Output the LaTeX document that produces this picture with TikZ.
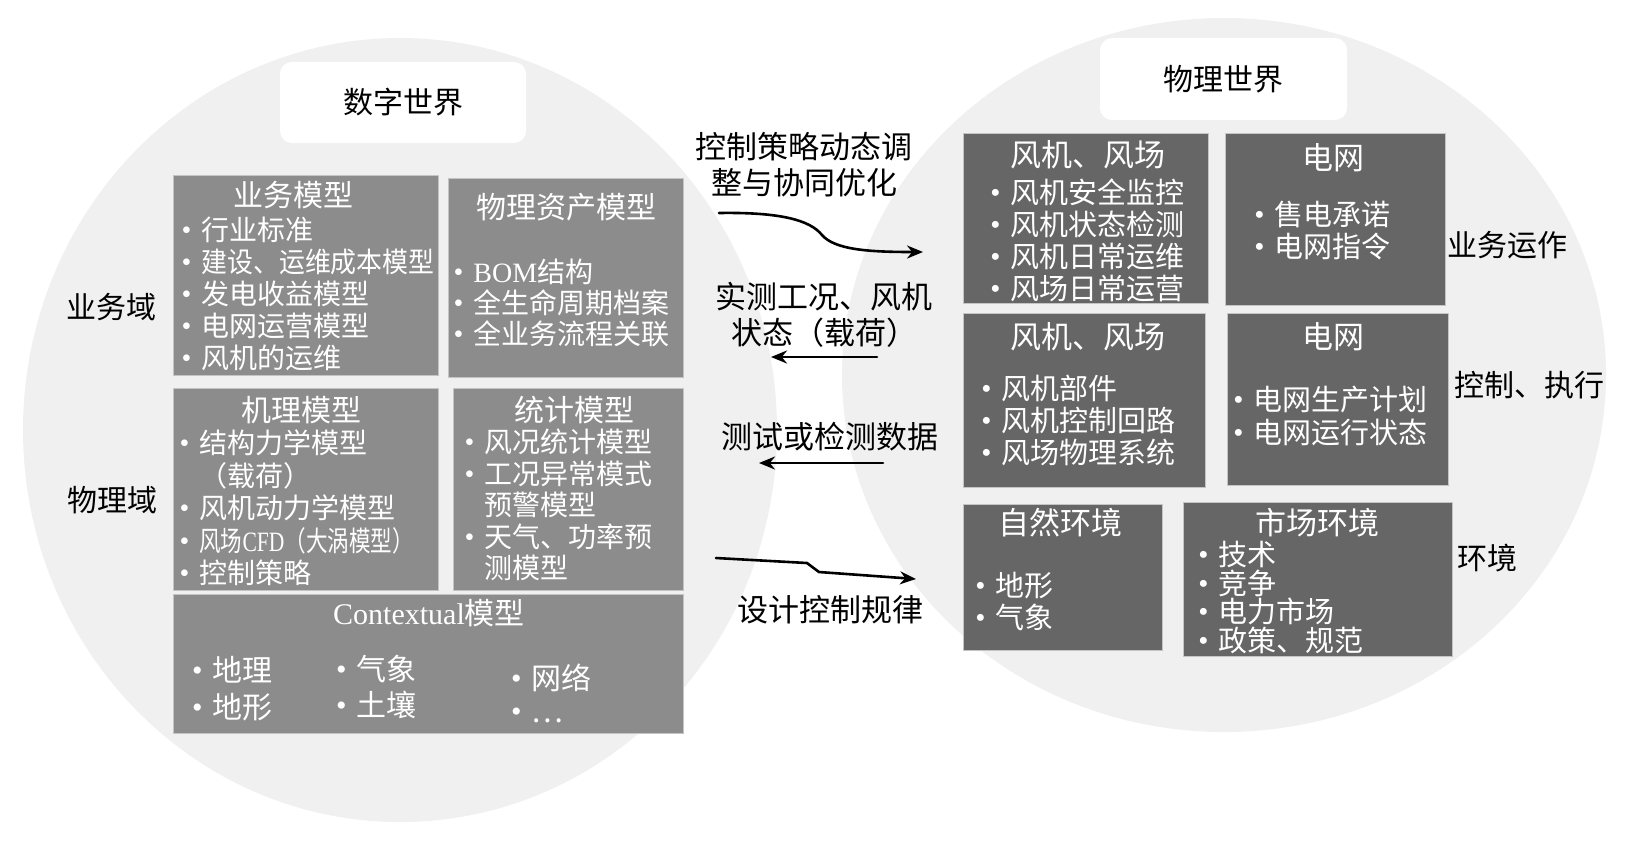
\documentclass[tikz,border=0pt]{standalone}
\usepackage{fontspec}
\usepackage{graphicx}
\setmainfont{Noto Sans CJK SC}
\newfontfamily\latinfont{Liberation Serif}
\usetikzlibrary{arrows.meta}
\definecolor{ovalgray}{HTML}{F0F0F0}
\definecolor{boxlight}{HTML}{8C8C8C}
\definecolor{boxdark}{HTML}{666666}
\definecolor{boxedge}{HTML}{C4C4C4}
\newcommand\bul{\makebox[10pt][l]{\hspace*{2.5pt}\makebox[0pt][c]{\raisebox{0.5pt}{\latinfont •}}}}
\newcommand\bulsp{\hspace*{10pt}}
\begin{document}
\begin{tikzpicture}[>={Stealth[length=8pt,width=6.5pt]}, x=0.5pt, y=-0.5pt, line join=round, line cap=round,
  lbox/.style={fill=boxlight, draw=boxedge, line width=0.6pt, anchor=north west, inner sep=0},
  rbox/.style={lbox, fill=boxdark},
  world/.style={fill=white, rounded corners=6pt, inner sep=0, font=\fontsize{15}{18}\selectfont},
  btitle/.style={text=white, inner sep=0, font=\fontsize{15}{18}\selectfont},
  rtitle/.style={btitle, font=\fontsize{15.5}{18}\selectfont},
  litem/.style={text=white, inner sep=0, anchor=west, align=left, font=\fontsize{14}{16}\selectfont},
  ritem/.style={litem, font=\fontsize{14.5}{16}\selectfont},
  side/.style={inner sep=0, font=\fontsize{15}{18}\selectfont},
  mid/.style={inner sep=0, align=center, font=\fontsize{15.5}{18}\selectfont},
  flow/.style={->, line width=1.3pt}]
\useasboundingbox (0,0) rectangle (1631,848);
\fill[ovalgray] (400,430) ellipse [x radius=188.5pt, y radius=196pt];
\fill[ovalgray] (1224,375) ellipse [x radius=191pt, y radius=178.5pt];
\node[world, minimum width=123pt, minimum height=40.5pt] (dworld) at (403,102.5) {数字世界};
\node[world, minimum width=123.5pt, minimum height=41pt] (pworld) at (1223.5,79) {物理世界};

\node[lbox, minimum width=132.5pt, minimum height=100pt] (bizm) at (173,175) {};
\node[lbox, minimum width=117.5pt, minimum height=99.5pt] (assetm) at (448,178) {};
\node[lbox, minimum width=132.5pt, minimum height=101pt] (mechm) at (173,388) {};
\node[lbox, minimum width=115pt, minimum height=101pt] (statm) at (453,388) {};
\node[lbox, minimum width=255pt, minimum height=69.5pt] (ctxm) at (173,594) {};

\node[btitle] (bizmT) at (293,195) {业务模型};
\node[litem] (bizmI) at (181,294) {\bul 行业标准\\\bul \scalebox{0.925}[1]{建设、运维成本模型}\\\bul 发电收益模型\\\bul 电网运营模型\\\bul 风机的运维};
\node[btitle] (assetmT) at (566,207) {物理资产模型};
\node[litem, font=\fontsize{14}{15.5}\selectfont] (assetmI) at (453,302.5) {\bul {\latinfont BOM}结构\\\bul 全生命周期档案\\\bul 全业务流程关联};
\node[btitle] (mechmT) at (301,410) {机理模型};
\node[litem, font=\fontsize{14}{16.25}\selectfont] (mechmI) at (179,508) {\bul 结构力学模型\\\bulsp（载荷）\\\bul 风机动力学模型\\\bul \scalebox{0.77}[1]{风场{\latinfont CFD}（大涡模型）}\\\bul 控制策略};
\node[btitle] (statmT) at (574,410) {统计模型};
\node[litem, font=\fontsize{14}{15.75}\selectfont] (statmI) at (464,505) {\bul 风况统计模型\\\bul 工况异常模式\\\bulsp 预警模型\\\bul 天气、功率预\\\bulsp 测模型};
\node[btitle] (ctxmT) at (429,613) {{\latinfont Contextual}模型};
\node[litem, font=\fontsize{15}{18.5}\selectfont] (ctxmA) at (192,688.5) {\bul 地理\\\bul 地形};
\node[litem, font=\fontsize{15}{18}\selectfont] (ctxmB) at (336,687.5) {\bul 气象\\\bul 土壤};
\node[litem, font=\fontsize{15}{16.5}\selectfont] (ctxmC) at (511,693.5) {\bul 网络\\\bul …};

\node[rbox, minimum width=122.5pt, minimum height=85pt] (farmA) at (963,133) {};
\node[rbox, minimum width=110pt, minimum height=86pt] (gridA) at (1225,133) {};
\node[rbox, minimum width=121pt, minimum height=87pt] (farmB) at (963,313) {};
\node[rbox, minimum width=110.5pt, minimum height=86pt] (gridB) at (1227,313) {};
\node[rbox, minimum width=99.5pt, minimum height=73pt] (natenv) at (963,504) {};
\node[rbox, minimum width=134.5pt, minimum height=77pt] (mktenv) at (1183,502) {};

\node[rtitle] (farmAT) at (1088,155) {风机、风场};
\node[ritem] (farmAI) at (990,240.5) {\bul 风机安全监控\\\bul 风机状态检测\\\bul 风机日常运维\\\bul 风场日常运营};
\node[rtitle] (gridAT) at (1333,158) {电网};
\node[ritem] (gridAI) at (1254,231) {\bul 售电承诺\\\bul 电网指令};
\node[rtitle] (farmBT) at (1088,337) {风机、风场};
\node[ritem] (farmBI) at (981,420) {\bul 风机部件\\\bul 风机控制回路\\\bul 风场物理系统};
\node[rtitle] (gridBT) at (1333,337) {电网};
\node[ritem, font=\fontsize{14.5}{16.5}\selectfont] (gridBI) at (1233,416.5) {\bul 电网生产计划\\\bul 电网运行状态};
\node[rtitle] (natenvT) at (1060,523) {自然环境};
\node[ritem] (natenvI) at (975,601) {\bul 地形\\\bul 气象};
\node[rtitle] (mktenvT) at (1317,523) {市场环境};
\node[ritem, font=\fontsize{14.5}{14.2}\selectfont] (mktenvI) at (1198,597.5) {\bul 技术\\\bul 竞争\\\bul 电力市场\\\bul 政策、规范};

\node[side] (bizdom) at (111,307) {业务域};
\node[side] (phydom) at (112,500) {物理域};
\node[side] (bizop) at (1507,245) {业务运作};
\node[side] (ctlexe) at (1529,385) {控制、执行};
\node[side] (envlab) at (1487,558) {环境};

\node[mid] (ctrlopt) at (804,165) {控制策略动态调\\整与协同优化};
\node[mid] (measst) at (824,315) {实测工况、风机\\状态（载荷）};
\node[mid] (testdat) at (830,437) {测试或检测数据};
\node[mid] (designl) at (830,610) {设计控制规律};

\coordinate (ctrlS) at (719,213);
\coordinate (ctrlE) at (923,252);
\coordinate (measS) at (877,357);
\coordinate (measE) at (771,357);
\coordinate (testS) at (883,463);
\coordinate (testE) at (759,463);
\coordinate (designS) at (716,558);
\coordinate (designE) at (916,579);
\draw[flow] (ctrlS) .. controls (780,212) and (810,220) .. (822,235) .. controls (835,250) and (870,252) .. (ctrlE);
\draw[flow] (measS) -- (measE);
\draw[flow] (testS) -- (testE);
\draw[flow] (designS) -- (807,563) -- (819,572) -- (designE);
\end{tikzpicture}
\end{document}
